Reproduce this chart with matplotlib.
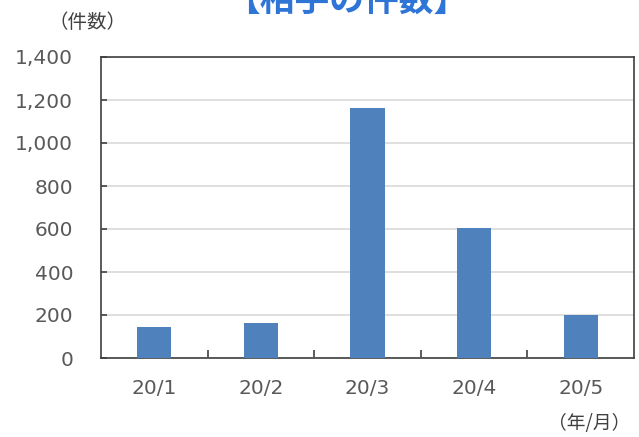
import matplotlib
matplotlib.use("Agg")
import matplotlib.pyplot as plt
from matplotlib.ticker import FuncFormatter, MultipleLocator

plt.rcParams['font.family'] = ['Noto Sans CJK JP', 'DejaVu Sans']

categories = ["20/1", "20/2", "20/3", "20/4", "20/5"]
values = [145, 165, 1165, 605, 200]
title = "【相手の件数】"
y_unit = "（件数）"
x_unit = "（年/月）"

fig = plt.figure(figsize=(6.39, 4.37), dpi=100)
ax = fig.add_axes([101/639, 1 - 358/437, 533/639, 301/437])

x = list(range(len(categories)))
ax.bar(x, values, width=0.32, color="#4F81BD", zorder=3)
ax.set_xlim(-0.5, len(categories) - 0.5)
ax.set_ylim(0, 1400)
ax.yaxis.set_major_locator(MultipleLocator(200))
ax.yaxis.set_major_formatter(FuncFormatter(lambda v, p: f"{int(v):,}"))
ax.grid(axis="y", color="#D9D9D9", linewidth=1.2, zorder=0)

ax.set_xticks(x)
ax.set_xticklabels(categories, fontfamily="DejaVu Sans")
ax.tick_params(axis="x", which="major", length=0, pad=15, labelsize=14.5, colors="#595959")
ax.set_xticks([i + 0.5 for i in x[:-1]], minor=True)
ax.tick_params(axis="x", which="minor", direction="in", length=6, width=1.2, color="#404040")
ax.tick_params(axis="y", direction="in", length=4, width=1.2, color="#404040",
               labelsize=14.5, labelcolor="#595959", pad=20)
for lab in ax.get_yticklabels():
    lab.set_fontfamily("DejaVu Sans")
for s in ax.spines.values():
    s.set_color("#404040")
    s.set_linewidth(1.2)

fig.text(88/639, 1 - 22/437, y_unit, fontsize=14, color="#404040", ha="center", va="center")
fig.text(630/639, 1 - 424/437, x_unit, fontsize=13.5, color="#404040", ha="right", va="center")
fig.text(347/639, 1 - 1/437, title, fontsize=25, fontweight="bold", color="#2E75D6",
         ha="center", va="center")

fig.savefig("out.png", dpi=100)
